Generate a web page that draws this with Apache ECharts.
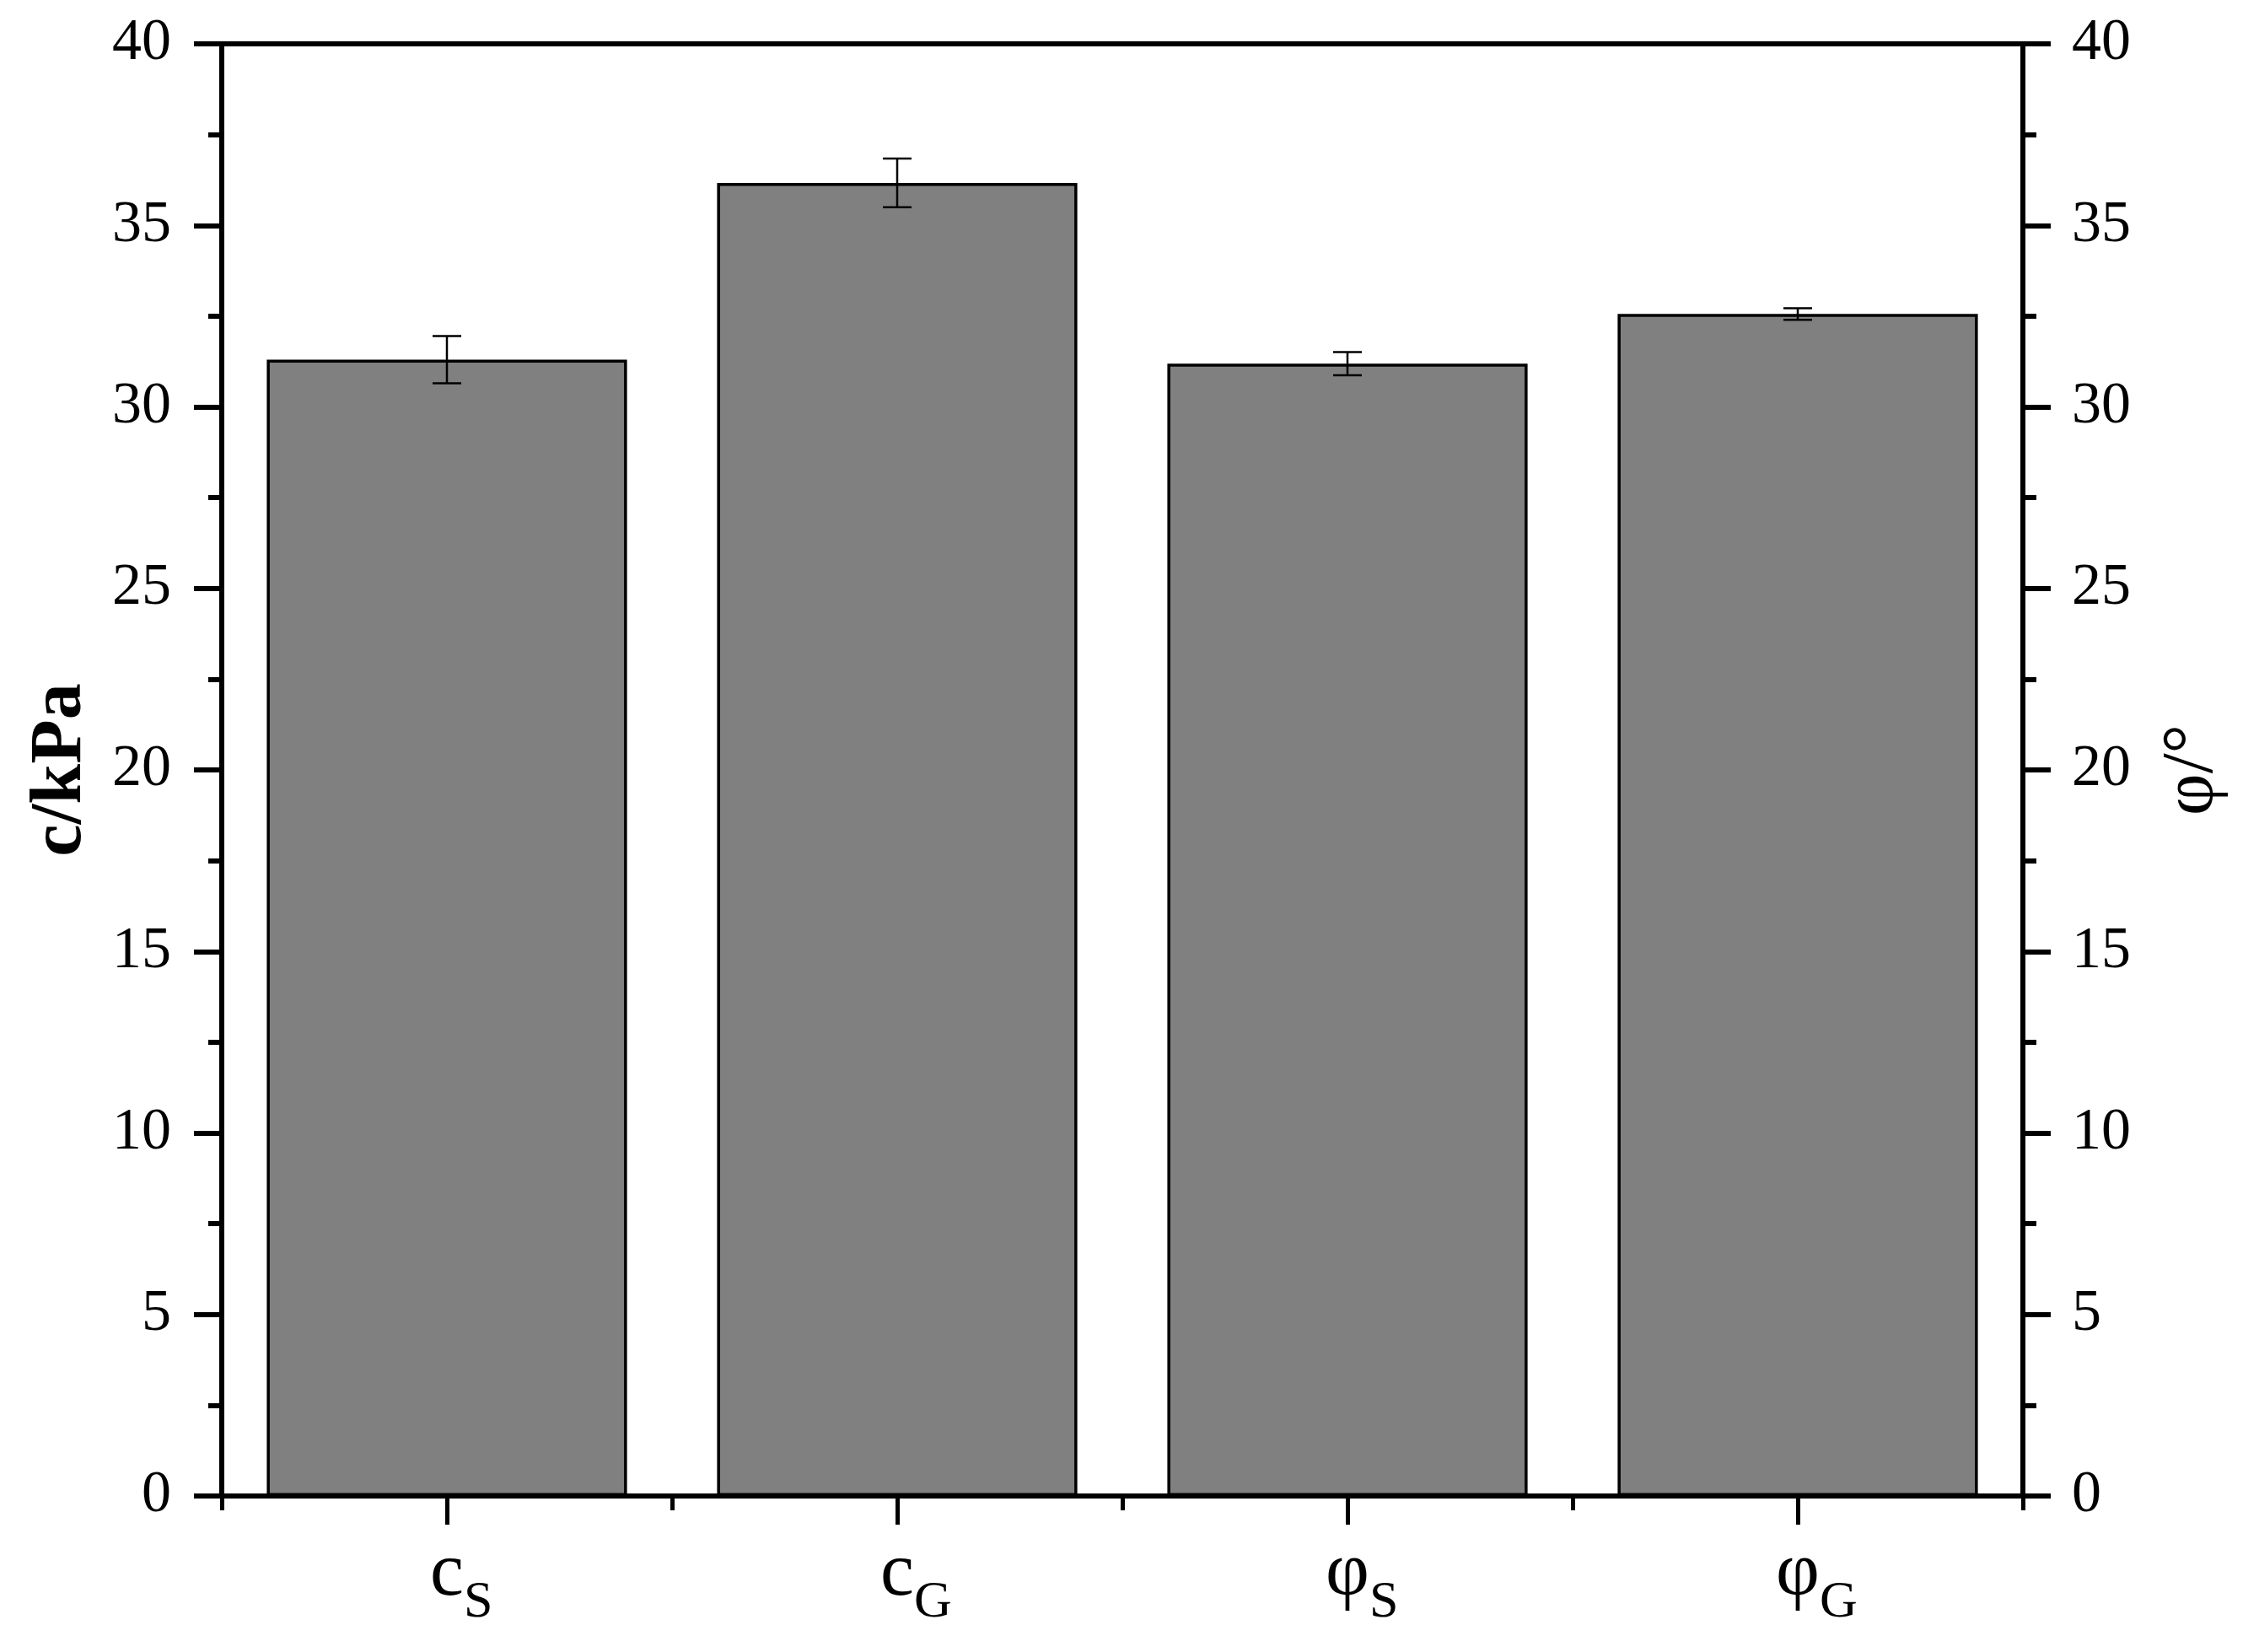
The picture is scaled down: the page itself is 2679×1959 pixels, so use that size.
<!DOCTYPE html>
<html>
<head>
<meta charset="utf-8">
<script src="https://cdn.jsdelivr.net/npm/echarts@6/dist/echarts.min.js"></script>
<style>
html,body{margin:0;padding:0;background:#fff;}
#chart{width:2679px;height:1959px;}
</style>
</head>
<body>
<div id="chart"></div>
<script>
// ---- data ----
const categories = ['cS', 'cG', 'φS', 'φG'];
const labelMain = ['c', 'c', 'φ', 'φ'];
const labelSub = ['S', 'G', 'S', 'G'];
const cohesion = [31.30, 36.17, null, null];   // c / kPa (left axis)
const friction = [null, null, 31.19, 32.56];   // φ / ° (right axis)
const errors = [0.65, 0.67, 0.32, 0.16];
const yTicks = [0, 5, 10, 15, 20, 25, 30, 35, 40];

const FONT = '"Liberation Serif", "Times New Roman", serif';

const means = categories.map((c, i) => cohesion[i] != null ? cohesion[i] : friction[i]);
const errData = categories.map((c, i) => [i, means[i] - errors[i], means[i] + errors[i]]);

const chart = echarts.init(document.getElementById('chart'), null, {renderer: 'canvas'});

const yCommon = {
  type: 'value',
  min: yTicks[0],
  max: yTicks[yTicks.length - 1],
  interval: yTicks[1] - yTicks[0],
  splitLine: {show: false},
  axisLine: {show: true, lineStyle: {color: '#000', width: 6}},
  axisTick: {show: true, inside: false, length: 33, lineStyle: {color: '#000', width: 6}},
  minorTick: {show: true, splitNumber: 2, length: 16, lineStyle: {color: '#000', width: 6}},
  minorSplitLine: {show: false},
  nameLocation: 'middle',
  axisLabel: {color: '#000', fontFamily: FONT, fontSize: 70}
};

const option = {
  backgroundColor: '#fff',
  animation: false,
  grid: {left: 263, right: 280, top: 52, bottom: 185, containLabel: false},
  xAxis: [
    {
      type: 'category', position: 'bottom', data: categories,
      axisLine: {show: true, onZero: false, lineStyle: {color: '#000', width: 6}},
      axisTick: {show: true, alignWithLabel: true, length: 34, lineStyle: {color: '#000', width: 5}},
      axisLabel: {
        margin: 48,
        interval: 0,
        formatter: function (v, i) {
          return '{pad|' + labelSub[i] + '}{main|' + labelMain[i] + '}{sub|' + labelSub[i] + '}';
        },
        rich: {
          main: {fontFamily: FONT, fontSize: 90, lineHeight: 110, color: '#000', verticalAlign: 'top'},
          sub: {fontFamily: FONT, fontSize: 62, color: '#000', verticalAlign: 'bottom'},
          pad: {fontFamily: FONT, fontSize: 62, color: 'rgba(0,0,0,0)', verticalAlign: 'bottom'}
        }
      },
      splitLine: {show: false}
    },
    {
      type: 'category', position: 'bottom', data: categories,
      axisLine: {show: false, onZero: false},
      axisTick: {show: true, alignWithLabel: false, length: 17, lineStyle: {color: '#000', width: 5}},
      axisLabel: {show: false},
      splitLine: {show: false}
    },
    {
      type: 'category', position: 'top', data: categories,
      axisLine: {show: true, onZero: false, lineStyle: {color: '#000', width: 6}},
      axisTick: {show: false},
      axisLabel: {show: false},
      splitLine: {show: false}
    }
  ],
  yAxis: [
    Object.assign({}, yCommon, {
      position: 'left',
      name: 'c/kPa',
      nameGap: 147,
      nameTextStyle: {color: '#000', fontFamily: FONT, fontSize: 86, fontWeight: 'bold'},
      axisLabel: Object.assign({}, yCommon.axisLabel, {margin: 60})
    }),
    Object.assign({}, yCommon, {
      position: 'right',
      name: 'φ/°',
      nameGap: 158,
      nameTextStyle: {color: '#000', fontFamily: FONT, fontSize: 86},
      axisLabel: Object.assign({}, yCommon.axisLabel, {margin: 58})
    })
  ],
  series: [
    {
      name: 'c', type: 'bar', xAxisIndex: 0, yAxisIndex: 0,
      data: cohesion, barWidth: '80%', barGap: '-100%',
      itemStyle: {color: '#808080', borderColor: '#000', borderWidth: 3.5}
    },
    {
      name: 'φ', type: 'bar', xAxisIndex: 0, yAxisIndex: 1,
      data: friction, barWidth: '80%', barGap: '-100%',
      itemStyle: {color: '#808080', borderColor: '#000', borderWidth: 3.5}
    },
    {
      name: 'error', type: 'custom', xAxisIndex: 0, yAxisIndex: 0,
      data: errData,
      encode: {x: 0, y: [1, 2]},
      z: 10,
      renderItem: function (params, api) {
        const x = api.value(0);
        const lo = api.coord([x, api.value(1)]);
        const hi = api.coord([x, api.value(2)]);
        const hw = 17;
        const st = {stroke: '#000', lineWidth: 2.5};
        return {
          type: 'group',
          children: [
            {type: 'line', shape: {x1: hi[0], y1: hi[1], x2: lo[0], y2: lo[1]}, style: st},
            {type: 'line', shape: {x1: hi[0] - hw, y1: hi[1], x2: hi[0] + hw, y2: hi[1]}, style: st},
            {type: 'line', shape: {x1: lo[0] - hw, y1: lo[1], x2: lo[0] + hw, y2: lo[1]}, style: st}
          ]
        };
      }
    }
  ]
};
chart.setOption(option);
</script>
</body>
</html>
